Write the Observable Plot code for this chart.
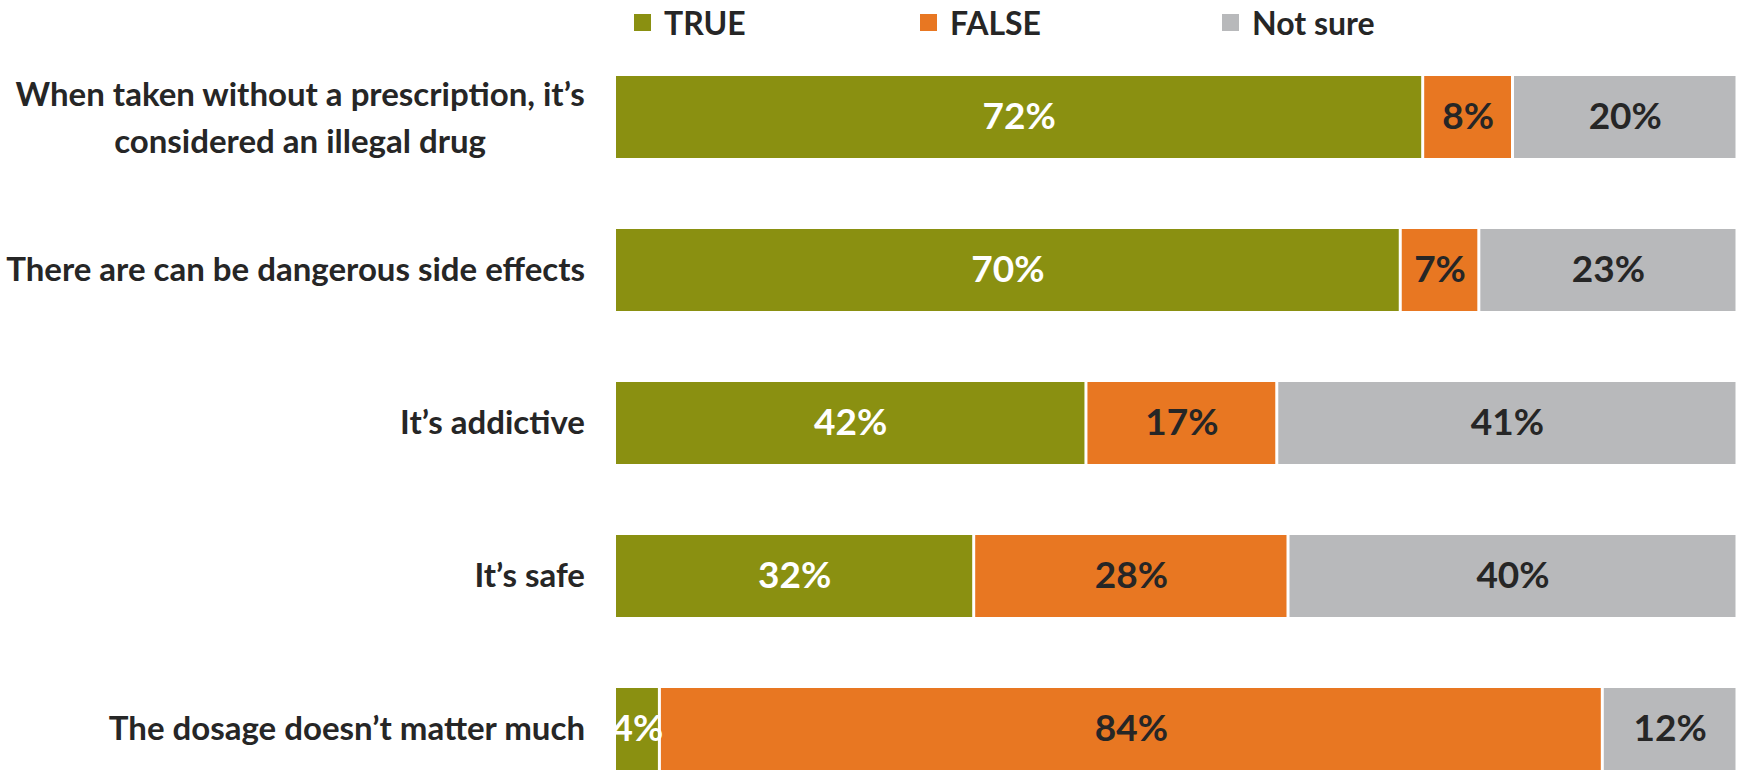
<!DOCTYPE html>
<html><head><meta charset="utf-8">
<script src="https://cdn.jsdelivr.net/npm/d3@7"></script>
<script src="https://cdn.jsdelivr.net/npm/@observablehq/plot@0.6"></script>
<style>
body{margin:0;background:#fff;font-family:Lato, sans-serif;}
#legend{position:relative;height:45px;}
.item{position:absolute;top:0;height:45px;display:flex;align-items:center;font-weight:700;font-size:32px;color:#262626;white-space:nowrap;}
.sw{width:17px;height:17px;margin-right:13px;}
</style></head><body>
<div id="legend"></div>
<div id="chart"></div>
<script>
const categories = [
  "When taken without a prescription, it’s\nconsidered an illegal drug",
  "There are can be dangerous side effects",
  "It’s addictive",
  "It’s safe",
  "The dosage doesn’t matter much"
];
const responses = ["TRUE", "FALSE", "Not sure"];
const trueValues = [72, 70, 42, 32, 4];
const falseValues = [8, 7, 17, 28, 84];
const notSureValues = [20, 23, 41, 40, 12];
const colors = ["#8a9011", "#e87722", "#b8b9bb"];
const labelColors = ["#ffffff", "#262626", "#262626"];
const legendLefts = [634, 920, 1222];

const FONT = "Lato";
const catSize = 33, valSize = 37, gapLabel = 30;

// build table
const series = [trueValues, falseValues, notSureValues];
const rows = [];
categories.forEach((c, i) => {
  let acc = 0;
  responses.forEach((r, j) => {
    const v = series[j][i];
    rows.push({category: c, response: r, value: v, x1: acc, x2: acc + v, ri: j});
    acc += v;
  });
});

// legend
const leg = document.getElementById("legend");
responses.forEach((r, j) => {
  const it = document.createElement("div");
  it.className = "item";
  it.style.left = legendLefts[j] + "px";
  const sw = document.createElement("div");
  sw.className = "sw";
  sw.style.background = colors[j];
  it.appendChild(sw);
  it.appendChild(document.createTextNode(r));
  leg.appendChild(it);
});

// measure for centered multi-line label
const ctx = document.createElement("canvas").getContext("2d");
ctx.font = `bold ${catSize}px ${FONT}`;
const multi = categories.filter(c => c.includes("\n"));
const single = categories.filter(c => !c.includes("\n"));

const catMarks = [
  Plot.text(single, {y: d => d, x: () => 0, text: d => d, textAnchor: "end", dx: -gapLabel,
    fontSize: catSize, fontWeight: 700, fill: "#262626"})
];
multi.forEach(c => {
  const w = d3.max(c.split("\n"), l => ctx.measureText(l).width);
  catMarks.push(Plot.text([c], {y: d => d, x: () => 0, text: d => d, textAnchor: "middle",
    dx: -gapLabel - w / 2, dy: -3.5, lineHeight: 1.43, fontSize: catSize, fontWeight: 700, fill: "#262626"}));
});

const chart = Plot.plot({
  width: 1737,
  height: 728,
  marginLeft: 614.5,
  marginRight: 0,
  marginTop: 29,
  marginBottom: 0,
  style: {fontFamily: FONT, background: "white"},
  x: {domain: [0, 100], axis: null},
  y: {domain: categories, paddingInner: 0.461, paddingOuter: 0, axis: null},
  color: {domain: responses, range: colors},
  marks: [
    Plot.barX(rows, {x1: "x1", x2: "x2", y: "category", fill: "response", insetLeft: 1.5, insetRight: 1.5}),
    Plot.text(rows.filter(d => d.ri === 0), {x: d => (d.x1 + d.x2) / 2, y: "category", text: d => d.value + "%",
      fill: labelColors[0], fontSize: valSize, fontWeight: 700}),
    Plot.text(rows.filter(d => d.ri !== 0), {x: d => (d.x1 + d.x2) / 2, y: "category", text: d => d.value + "%",
      fill: labelColors[1], fontSize: valSize, fontWeight: 700}),
    ...catMarks
  ]
});
document.getElementById("chart").appendChild(chart);
</script>
</body></html>
